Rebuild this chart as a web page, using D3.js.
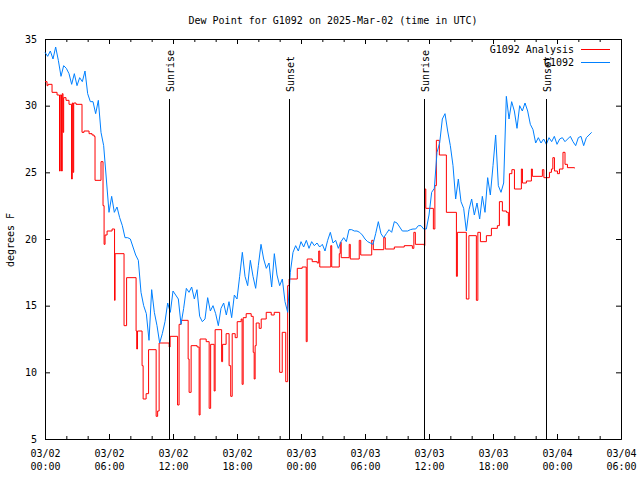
<!DOCTYPE html>
<html><head><meta charset="utf-8">
<script src="https://cdn.jsdelivr.net/npm/d3@7"></script>
<style>
body{margin:0;background:#fff}
svg{display:block;background:#fff}
text{font-family:"DejaVu Sans Mono",monospace;font-size:10px;fill:#000}
</style>
</head><body>
<svg id="c" width="640" height="480"></svg>
<script>
const chartTitle = "Dew Point for G1092 on 2025-Mar-02 (time in UTC)";
const yAxisLabel = "degrees F";
const seriesNames = ["G1092 Analysis", "G1092"];
const seriesColors = ["#ff0000", "#0080ff"];

// hours since 03/02 00:00 UTC
const xTickHours = [0, 6, 12, 18, 24, 30, 36, 42, 48, 54];
const xTickDates = ["03/02","03/02","03/02","03/02","03/03","03/03","03/03","03/03","03/04","03/04"];
const xTickTimes = ["00:00","06:00","12:00","18:00","00:00","06:00","12:00","18:00","00:00","06:00"];
const xMinorHours = [0,2,4,6,8,10,12,14,16,18,20,22,24,26,28,30,32,34,36,38,40,42,44,46,48,50,52,54];
const yTicks = [5, 10, 15, 20, 25, 30, 35];

const sunHours = [11.66, 22.92, 35.59, 46.98];
const sunLabels = ["Sunrise", "Sunset", "Sunrise", "Sunset"];

// G1092 observations, every 15 minutes from 03/02 00:00
const obsStepHours = 0.25;
const obsValues = [
 34.0,33.7,34.1,33.5,34.4,33.4,32.2,33.0,32.8,32.4,
 31.6,32.4,31.5,32.1,31.8,32.6,30.9,30.3,30.3,29.4,
 30.4,28.0,27.0,24.5,22.0,23.2,22.0,22.4,21.6,21.0,
 20.1,20.1,20.0,19.4,18.8,18.4,16.0,15.0,14.4,12.4,
 16.2,14.5,13.5,12.2,12.9,13.8,15.2,14.5,16.1,15.8,
 15.5,13.6,14.8,16.3,16.0,16.4,15.5,16.2,14.2,13.8,
 14.0,15.6,14.6,15.0,14.4,13.5,14.8,15.2,14.3,15.3,
 14.1,15.8,15.5,17.2,19.0,17.2,16.5,18.4,17.2,16.3,
 18.0,19.6,18.5,17.8,18.2,16.4,18.9,17.3,16.5,17.0,
 15.3,14.5,17.5,19.0,19.5,19.1,19.8,19.4,19.9,19.3,
 19.8,19.5,19.7,19.4,19.6,19.1,19.9,20.5,19.7,19.9,
 19.3,19.8,20.1,19.8,20.7,20.7,20.6,20.6,20.5,20.3,
 20.0,19.8,19.7,19.6,20.4,21.3,20.4,20.1,20.4,20.7,
 20.5,21.3,21.2,20.9,20.6,20.6,20.6,20.7,20.75,
 20.75,21.0,21.0,20.75,20.75,21.8,23.5,23.8,26.5,27.2,
 29.0,29.4,28.1,27.0,25.5,23.0,24.5,22.8,22.3,20.6,
 22.2,23.0,21.8,22.7,21.5,23.2,22.0,24.6,23.3,25.5,
 27.8,24.0,23.5,24.2,30.7,29.0,30.3,29.6,28.3,30.0,
 29.6,30.2,29.6,28.6,28.2,27.2,27.6,27.2,27.5,27.1,
 27.6,27.3,27.7,27.1,27.5,27.6,27.3,27.5,27.7,27.3,
 27.0,27.6,27.7,27.0,27.6,27.8,28.0
];

// G1092 Analysis (stepwise)
const anaHours = [
 0,0.19,0.28,0.66,1.13,1.36,1.43,1.55,1.62,1.69,
 1.75,1.97,2.25,2.49,2.56,2.63,2.69,2.91,3.47,3.66,
 4.13,4.41,4.60,4.69,5.25,5.44,5.54,5.63,5.82,6.29,
 6.52,6.57,7.41,7.65,8.54,8.60,8.67,9.10,9.20,9.48,
 9.71,10.42,10.56,10.70,11.64,11.73,12.43,12.57,12.76,13.42,
 13.51,13.70,14.26,14.45,14.54,15.11,15.39,15.53,15.86,15.95,
 16.56,16.65,16.98,17.26,17.41,17.55,17.83,18.02,18.39,18.48,
 18.58,18.86,19.33,19.52,19.61,19.70,19.80,20.08,20.27,20.74,
 21.21,21.49,22.00,22.24,22.57,22.75,22.89,23.65,24.11,24.49,
 24.58,25.05,25.52,25.66,25.76,26.79,26.88,27.59,27.68,27.77,
 28.52,28.62,29.46,29.60,30.63,30.78,31.76,31.90,32.75,33.68,
 34.44,34.58,34.72,35.56,35.61,35.70,36.41,36.55,36.69,36.97,
 37.63,38.57,38.66,39.50,39.74,40.44,40.58,40.82,41.38,41.85,
 42.41,42.60,42.88,43.26,43.44,43.54,43.77,44.01,44.66,44.76,
 45.13,45.60,45.69,46.63,46.77,47.29,47.48,47.61,47.76,48.04,
 48.23,48.56,48.75,48.98,49.64
];
const anaValues = [
 31.8,31.5,31.6,31.0,30.8,25.1,30.8,25.1,30.9,28.0,
 30.6,30.4,30.1,24.5,30.2,25.0,30.2,30.1,28.0,28.1,
 27.9,27.8,27.7,24.4,25.8,22.5,19.6,20.3,20.6,20.75,
 15.4,18.9,13.5,17.1,13.1,11.75,13.1,10.5,8.0,8.4,
 11.7,6.7,7.1,12.2,11.9,12.7,7.55,13.6,13.9,11.0,
 8.5,12.0,11.9,6.8,12.5,12.3,7.3,12.1,8.6,13.2,
 10.8,12.1,12.9,10.5,8.2,12.9,12.6,13.8,14.0,9.1,
 14.1,14.4,14.2,11.5,9.5,12.0,13.7,13.3,14.0,14.5,
 14.3,14.5,10.0,13.0,9.3,16.5,17.0,17.8,17.9,12.3,
 18.5,18.3,18.2,19.1,17.9,19.5,17.9,18.9,19.75,18.6,
 19.6,18.5,19.9,18.8,19.9,19.2,20.1,19.25,19.4,19.5,
 19.3,20.5,19.6,19.5,23.75,22.3,20.75,24.0,27.4,26.3,
 22.0,17.2,20.5,15.5,20.25,15.4,20.5,19.8,20.25,20.8,
 21.0,22.8,22.1,22.0,21.0,24.9,25.2,23.75,25.25,24.2,
 24.35,25.25,24.7,25.2,24.6,25.0,25.25,26.1,25.1,24.9,
 25.25,26.5,25.6,25.35,25.3
];

const svg = d3.select("#c");
const x = d3.scaleLinear().domain([0, 54]).range([45, 621]);
const y = d3.scaleLinear().domain([5, 35]).range([439, 39]);

function clean(g){ g.attr("font-family", null).attr("font-size", null); return g; }

// minor ticks bottom/top
clean(svg.append("g").attr("transform","translate(0,439)")
  .call(d3.axisBottom(x).tickValues(xMinorHours).tickSize(-3).tickSizeOuter(0).tickFormat("")));
clean(svg.append("g").attr("transform","translate(0,39)")
  .call(d3.axisTop(x).tickValues(xMinorHours).tickSize(-3).tickSizeOuter(0).tickFormat("")));

// major bottom axis with two-line labels
const bx = clean(svg.append("g").attr("transform","translate(0,439)")
  .call(d3.axisBottom(x).tickValues(xTickHours).tickSize(-5).tickSizeOuter(0)
    .tickFormat((d,i) => xTickDates[i])));
bx.selectAll(".tick text").each(function(d, i){
  const t = d3.select(this);
  t.text(null).attr("y", null).attr("dy", null);
  t.append("tspan").attr("x", 0).attr("y", 18).text(xTickDates[i]);
  t.append("tspan").attr("x", 0).attr("y", 31).text(xTickTimes[i]);
});
clean(svg.append("g").attr("transform","translate(0,39)")
  .call(d3.axisTop(x).tickValues(xTickHours).tickSize(-5).tickSizeOuter(0).tickFormat("")));

// y axes
clean(svg.append("g").attr("transform","translate(45,0)")
  .call(d3.axisLeft(y).tickValues(yTicks).tickSize(-5).tickSizeOuter(0).tickPadding(8)));
clean(svg.append("g").attr("transform","translate(621,0)")
  .call(d3.axisRight(y).tickValues(yTicks).tickSize(-5).tickSizeOuter(0).tickFormat("")));

// series
const anaData = anaHours.map((h, i) => ({t: h, v: anaValues[i]}));
const obsData = obsValues.map((v, i) => ({t: i * obsStepHours, v: v}));

svg.append("path").datum(anaData)
  .attr("fill","none").attr("stroke", seriesColors[0]).attr("stroke-width", 1)
  .attr("d", d3.line().x(d => x(d.t)).y(d => y(d.v)).curve(d3.curveStepAfter));
svg.append("path").datum(obsData)
  .attr("fill","none").attr("stroke", seriesColors[1]).attr("stroke-width", 1)
  .attr("d", d3.line().x(d => x(d.t)).y(d => y(d.v)));

// sunrise / sunset
sunHours.forEach((h, i) => {
  const sx = Math.floor(x(h)) + 0.5;
  svg.append("line").attr("x1", sx).attr("x2", sx).attr("y1", 99).attr("y2", y(5) + 0.5)
    .attr("stroke", "#000").attr("stroke-width", 1);
  svg.append("text").attr("transform", `translate(${sx + 4.5},92) rotate(-90)`)
    .attr("text-anchor", "start").text(sunLabels[i]);
});

// legend
seriesNames.forEach((name, i) => {
  const ly = 49.5 + i * 13;
  svg.append("text").attr("x", 574).attr("y", ly + 3.5).attr("text-anchor", "end").text(name);
  svg.append("line").attr("x1", 581).attr("x2", 610).attr("y1", ly).attr("y2", ly)
    .attr("stroke", seriesColors[i]).attr("stroke-width", 1);
});

// title and y label
svg.append("text").attr("x", 333).attr("y", 24).attr("text-anchor", "middle").text(chartTitle);
svg.append("text").attr("transform", "translate(13.5,240) rotate(-90)")
  .attr("text-anchor", "middle").text(yAxisLabel);
</script>
</body></html>
